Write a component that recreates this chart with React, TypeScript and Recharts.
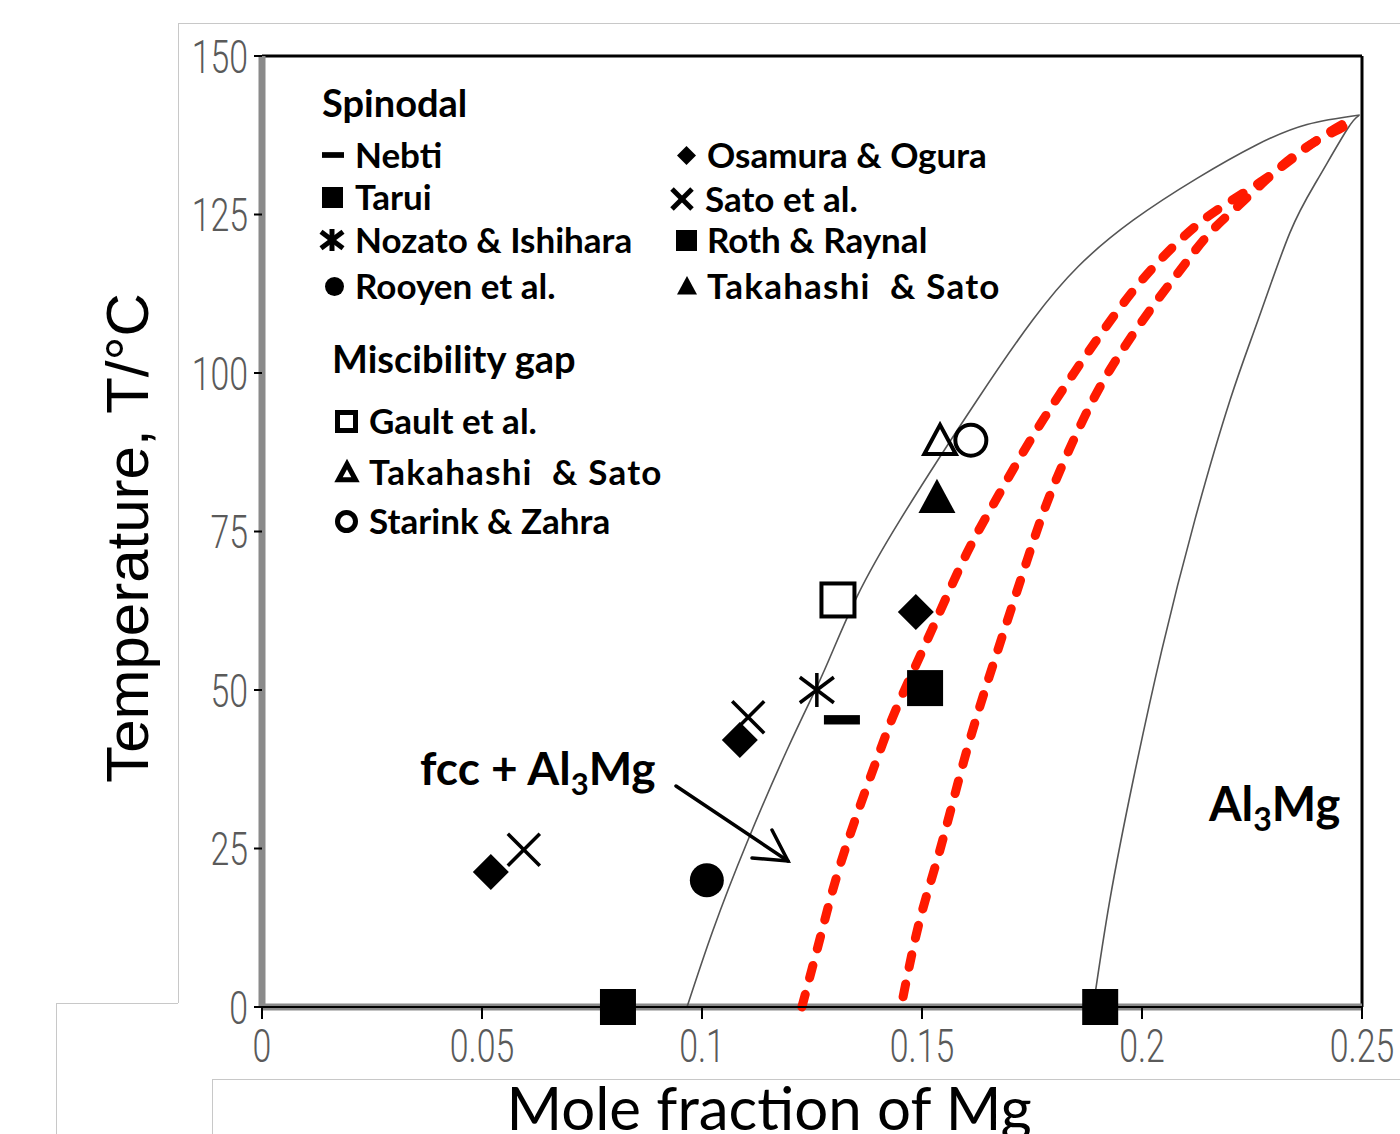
import React from 'react'
import { ComposedChart, Line, Scatter, XAxis, YAxis, ReferenceLine } from 'recharts'

const xTicks = [0, 0.05, 0.1, 0.15, 0.2, 0.25]
const yTicks = [0, 25, 50, 75, 100, 125, 150]

// phase boundaries (solvus lines)
const fccSolvus = [
  { x: 0.0966, y: 0 }, { x: 0.1025, y: 12.1 }, { x: 0.1102, y: 25.9 }, { x: 0.1193, y: 40.5 },
  { x: 0.1261, y: 50.5 }, { x: 0.1298, y: 56.3 }, { x: 0.1352, y: 64.7 }, { x: 0.145, y: 76.8 },
  { x: 0.1625, y: 95.7 }, { x: 0.1752, y: 108.4 }, { x: 0.1855, y: 116.8 }, { x: 0.198, y: 124.1 },
  { x: 0.2125, y: 130.7 }, { x: 0.2261, y: 136.0 }, { x: 0.2375, y: 139.2 }, { x: 0.2495, y: 140.7 },
]
const al3mgSolvus = [
  { x: 0.1889, y: 0 }, { x: 0.1927, y: 16.9 }, { x: 0.198, y: 35.8 }, { x: 0.2045, y: 56.3 },
  { x: 0.212, y: 76.8 }, { x: 0.22, y: 95.7 }, { x: 0.2264, y: 108.4 }, { x: 0.2336, y: 122.1 },
  { x: 0.2398, y: 130.4 }, { x: 0.2466, y: 138.4 }, { x: 0.2493, y: 140.6 },
]
// calculated spinodals (red dashed)
const spinodalA = [
  { x: 0.1227, y: 0 }, { x: 0.1273, y: 12.1 }, { x: 0.1325, y: 24.8 }, { x: 0.1405, y: 40.5 },
  { x: 0.145, y: 48.4 }, { x: 0.1525, y: 59.9 }, { x: 0.1602, y: 71.6 }, { x: 0.1677, y: 81.1 },
  { x: 0.1775, y: 92.6 }, { x: 0.1934, y: 108.8 }, { x: 0.2041, y: 117.8 }, { x: 0.2148, y: 124.6 },
  { x: 0.2275, y: 130.4 }, { x: 0.2389, y: 136.3 }, { x: 0.2473, y: 139.9 },
]
const spinodalB = [
  { x: 0.1457, y: 1.6 }, { x: 0.1495, y: 13.7 }, { x: 0.1541, y: 24.8 }, { x: 0.1602, y: 40.5 },
  { x: 0.167, y: 55.8 }, { x: 0.1739, y: 70.5 }, { x: 0.1791, y: 80.8 }, { x: 0.1855, y: 91.0 },
  { x: 0.1927, y: 100.5 }, { x: 0.2018, y: 109.9 }, { x: 0.208, y: 115.6 }, { x: 0.2116, y: 118.9 },
  { x: 0.2161, y: 122.6 }, { x: 0.2216, y: 126.2 }, { x: 0.2275, y: 130.0 }, { x: 0.233, y: 133.4 },
  { x: 0.2389, y: 136.3 }, { x: 0.2457, y: 138.8 }, { x: 0.2473, y: 139.9 },
]

// experimental points
const nebti = [{ x: 0.1318, y: 45.3 }]
const tarui = [{ x: 0.0809, y: 0 }, { x: 0.1905, y: 0 }]
const nozato = [{ x: 0.1261, y: 50 }]
const rooyen = [{ x: 0.1011, y: 20 }]
const osamura = [{ x: 0.052, y: 21.3 }, { x: 0.1086, y: 42.1 }, { x: 0.1486, y: 62.3 }]
const sato = [{ x: 0.0595, y: 24.8 }, { x: 0.1105, y: 45.7 }]
const roth = [{ x: 0.1507, y: 50.3 }]
const takahashiSp = [{ x: 0.1534, y: 80.4 }]
const gault = [{ x: 0.1309, y: 64.2 }]
const takahashiMg = [{ x: 0.1541, y: 89.4 }]
const starink = [{ x: 0.1611, y: 89.4 }]

type Kind = 'dash' | 'square' | 'star' | 'circle' | 'diamond' | 'cross' | 'triangle' | 'oSquare' | 'oTriangle' | 'oCircle'

function Marker({ kind, cx, cy, s, sw = 3.5 }: { kind: Kind; cx: number; cy: number; s: number; sw?: number }) {
  const h = s / 2
  const q = sw / 2
  switch (kind) {
    case 'dash':
      return <rect x={cx - h} y={cy - s * 0.13} width={s} height={s * 0.26} fill="#000" />
    case 'square':
      return <rect x={cx - h} y={cy - h} width={s} height={s} fill="#000" />
    case 'circle':
      return <circle cx={cx} cy={cy} r={h} fill="#000" />
    case 'diamond':
      return <polygon points={`${cx},${cy - h} ${cx + h},${cy} ${cx},${cy + h} ${cx - h},${cy}`} fill="#000" />
    case 'cross':
      return (
        <g stroke="#000" strokeWidth={sw}>
          <line x1={cx - h} y1={cy - h} x2={cx + h} y2={cy + h} />
          <line x1={cx - h} y1={cy + h} x2={cx + h} y2={cy - h} />
        </g>
      )
    case 'star':
      return (
        <g stroke="#000" strokeWidth={sw}>
          <line x1={cx - h} y1={cy - h * 0.75} x2={cx + h} y2={cy + h * 0.75} />
          <line x1={cx - h} y1={cy + h * 0.75} x2={cx + h} y2={cy - h * 0.75} />
          <line x1={cx} y1={cy - h} x2={cx} y2={cy + h} />
        </g>
      )
    case 'triangle':
      return <polygon points={`${cx},${cy - h} ${cx + h},${cy + h * 0.85} ${cx - h},${cy + h * 0.85}`} fill="#000" />
    case 'oSquare':
      return <rect x={cx - h + q} y={cy - h + q} width={s - sw} height={s - sw} fill="#fff" stroke="#000" strokeWidth={sw} />
    case 'oTriangle':
      return (
        <polygon
          points={`${cx},${cy - h + sw * 0.8} ${cx + h - sw * 0.7},${cy + h * 0.85 - q} ${cx - h + sw * 0.7},${cy + h * 0.85 - q}`}
          fill="none" stroke="#000" strokeWidth={sw}
        />
      )
    case 'oCircle':
      return <circle cx={cx} cy={cy} r={h - q} fill="none" stroke="#000" strokeWidth={sw} />
  }
  return null
}

const shapeOf = (kind: Kind, s = 35, sw = 3.5) => (p: any) => <Marker kind={kind} cx={p.cx} cy={p.cy} s={s} sw={sw} />

function LegendRow({ kind, label, left, textLeft, y, s = 20, sw = 5, spacing = 0 }: { kind: Kind; label: string; left: number; textLeft: number; y: number; s?: number; sw?: number; spacing?: number }) {
  const box = s + 6
  return (
    <>
      <svg width={box} height={box} style={{ position: 'absolute', left, top: y - box / 2 }}>
        <Marker kind={kind} cx={box / 2} cy={box / 2} s={s} sw={sw} />
      </svg>
      <div style={{ ...legendText, left: textLeft, top: y - 23, letterSpacing: spacing }}>{label}</div>
    </>
  )
}

const legendText: React.CSSProperties = {
  position: 'absolute',
  fontFamily: 'Lato, "Open Sans", sans-serif',
  fontWeight: 700,
  fontSize: 35,
  lineHeight: '44px',
  color: '#000',
  whiteSpace: 'pre',
}

const tickStyle = { fontFamily: 'Roboto, "Liberation Sans", sans-serif', fontWeight: 300, fontSize: 47, fill: '#5a5a5a' }

function XTick(p: any) {
  return (
    <text transform={`translate(${p.x},${p.y}) scale(0.72,1)`} textAnchor="middle" dy="0.71em" {...tickStyle}>
      {p.payload.value}
    </text>
  )
}

function YTick(p: any) {
  return (
    <text transform={`translate(${p.x},${p.y}) scale(0.72,1)`} textAnchor="end" dy="0.355em" {...tickStyle}>
      {p.payload.value}
    </text>
  )
}

const frame = (s: React.CSSProperties): React.CSSProperties => ({ position: 'absolute', background: '#c8c8c8', ...s })

export default function App() {
  return (
    <div style={{ position: 'relative', width: 1400, height: 1134, overflow: 'hidden', background: '#fff' }}>
      <style>{'body{margin:0}'}</style>
      {/* faint frames from the source layout */}
      <div style={frame({ left: 178, top: 23, width: 1222, height: 1 })} />
      <div style={frame({ left: 178, top: 23, width: 1, height: 980 })} />
      <div style={frame({ left: 56, top: 1003, width: 122, height: 1 })} />
      <div style={frame({ left: 56, top: 1003, width: 1, height: 131 })} />
      <div style={frame({ left: 212, top: 1079, width: 1188, height: 1 })} />
      <div style={frame({ left: 212, top: 1079, width: 1, height: 55 })} />

      <div style={{ position: 'absolute', left: 0, top: 0 }}>
        <ComposedChart width={1400} height={1134} margin={{ top: 56, right: 38, bottom: 67, left: 162 }}>
          <XAxis
            type="number"
            dataKey="x"
            domain={[0, 0.25]}
            ticks={xTicks}
            height={60}
            tickSize={12}
            tickMargin={10}
            tickLine={{ stroke: '#000', strokeWidth: 2 }}
            axisLine={{ stroke: '#000', strokeWidth: 2 }}
            tick={<XTick />}
          />
          <YAxis
            type="number"
            dataKey="y"
            domain={[0, 150]}
            ticks={yTicks}
            width={100}
            tickSize={8}
            tickMargin={6}
            tickLine={{ stroke: '#000', strokeWidth: 2 }}
            axisLine={false}
            tick={<YTick />}
          />
          <ReferenceLine y={150} stroke="#000" strokeWidth={3} />
          <ReferenceLine x={0.25} stroke="#000" strokeWidth={3} />
          <ReferenceLine x={0} stroke="#8a8a8a" strokeWidth={7} />
          <ReferenceLine y={0} stroke="#8a8a8a" strokeWidth={7} />

          <Line data={fccSolvus} dataKey="y" type="natural" stroke="#555" strokeWidth={1.6} dot={false} isAnimationActive={false} />
          <Line data={al3mgSolvus} dataKey="y" type="natural" stroke="#555" strokeWidth={1.6} dot={false} isAnimationActive={false} />
          <Line data={spinodalA} dataKey="y" type="natural" stroke="#ff1a00" strokeWidth={9} strokeDasharray="13 17" strokeLinecap="round" dot={false} isAnimationActive={false} />
          <Line data={spinodalB} dataKey="y" type="natural" stroke="#ff1a00" strokeWidth={9} strokeDasharray="13 17" strokeLinecap="round" dot={false} isAnimationActive={false} />

          <Scatter data={nebti} shape={shapeOf('dash', 36)} isAnimationActive={false} />
          <Scatter data={tarui} shape={shapeOf('square', 36)} isAnimationActive={false} />
          <Scatter data={nozato} shape={shapeOf('star', 34)} isAnimationActive={false} />
          <Scatter data={rooyen} shape={shapeOf('circle', 34)} isAnimationActive={false} />
          <Scatter data={osamura} shape={shapeOf('diamond', 36)} isAnimationActive={false} />
          <Scatter data={sato} shape={shapeOf('cross', 32)} isAnimationActive={false} />
          <Scatter data={roth} shape={shapeOf('square', 36)} isAnimationActive={false} />
          <Scatter data={takahashiSp} shape={shapeOf('triangle', 37)} isAnimationActive={false} />
          <Scatter data={gault} shape={shapeOf('oSquare', 37, 4)} isAnimationActive={false} />
          <Scatter data={takahashiMg} shape={shapeOf('oTriangle', 37, 4)} isAnimationActive={false} />
          <Scatter data={starink} shape={shapeOf('oCircle', 35, 4)} isAnimationActive={false} />
        </ComposedChart>
      </div>

      {/* legend */}
      <div style={{ ...legendText, fontSize: 38, left: 322, top: 80 }}>Spinodal</div>
      <LegendRow kind="dash" label="Nebti" left={319} textLeft={355} y={155} s={22} />
      <LegendRow kind="square" label="Tarui" left={319} textLeft={355} y={197} s={21} />
      <LegendRow kind="star" label="Nozato & Ishihara" left={318} textLeft={355} y={240} s={22} sw={5} />
      <LegendRow kind="circle" label="Rooyen et al." left={322} textLeft={355} y={286} s={19} />
      <LegendRow kind="diamond" label="Osamura & Ogura" left={674} textLeft={707} y={155} s={19} />
      <LegendRow kind="cross" label="Sato et al." left={669} textLeft={705} y={199} s={20} sw={5} />
      <LegendRow kind="square" label="Roth & Raynal" left={673} textLeft={707} y={240} s={21} />
      <LegendRow kind="triangle" label={'Takahashi  & Sato'} left={674} textLeft={707} y={286} s={20} spacing={1.2} />

      <div style={{ ...legendText, fontSize: 38, left: 332, top: 336 }}>Miscibility gap</div>
      <LegendRow kind="oSquare" label="Gault et al." left={332} textLeft={369} y={421} s={23} />
      <LegendRow kind="oTriangle" label={'Takahashi  & Sato'} left={332} textLeft={369} y={472} s={24} spacing={1.2} />
      <LegendRow kind="oCircle" label="Starink & Zahra" left={332} textLeft={369} y={521} s={23} />

      {/* annotations */}
      <div style={{ ...legendText, fontSize: 46, left: 420, top: 741, lineHeight: '54px' }}>
        fcc + Al<span style={{ fontSize: 31, verticalAlign: -10 }}>3</span>Mg
      </div>
      <svg width={1400} height={1134} style={{ position: 'absolute', left: 0, top: 0, pointerEvents: 'none' }}>
        <g stroke="#000" strokeWidth={3.5} fill="none" strokeLinecap="round">
          <line x1={676} y1={786} x2={788} y2={861} />
          <polyline points="772,830 788,861 752,858" />
        </g>
      </svg>
      <div style={{ ...legendText, fontSize: 47, left: 1209, top: 776, lineHeight: '54px' }}>
        Al<span style={{ fontSize: 32, verticalAlign: -10 }}>3</span>Mg
      </div>

      {/* axis titles */}
      <div
        style={{
          position: 'absolute', left: 127, top: 538, transform: 'translate(-50%, -50%) rotate(-90deg)',
          fontFamily: '"Liberation Sans", Arial, sans-serif', fontSize: 60, whiteSpace: 'nowrap', color: '#000',
        }}
      >
        Temperature, T/°C
      </div>
      <div
        style={{
          position: 'absolute', left: 769, top: 1082, transform: 'translateX(-50%)',
          fontFamily: 'Lato, "Open Sans", sans-serif', fontSize: 60, lineHeight: '50px', whiteSpace: 'nowrap', color: '#000',
        }}
      >
        Mole fraction of Mg
      </div>
    </div>
  )
}
